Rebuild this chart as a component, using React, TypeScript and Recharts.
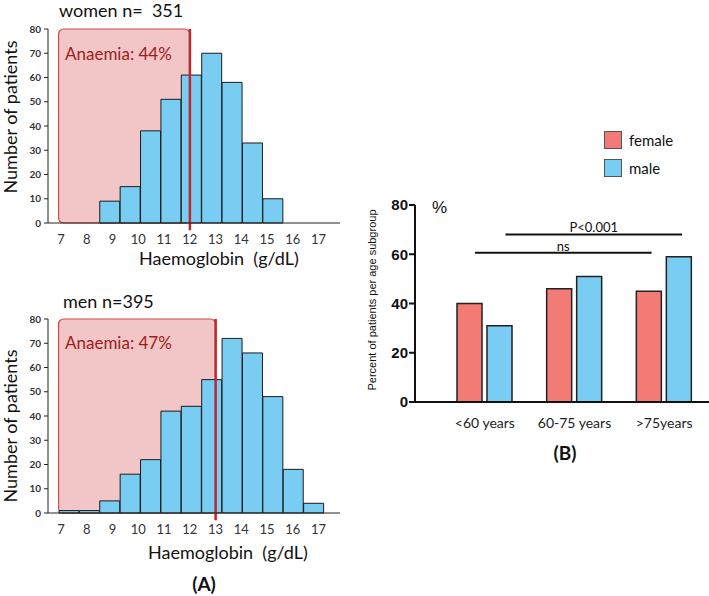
import React from 'react';
import {
  BarChart, Bar, XAxis, YAxis, ReferenceArea, ReferenceLine,
} from 'recharts';

// histogram bins (left edge of each bin, g/dL) and counts
const binStarts = [7.0, 7.8, 8.6, 9.4, 10.2, 11.0, 11.8, 12.5, 13.3, 14.1, 14.9, 15.7, 16.4];
const womenCounts = [0, 0, 9, 15, 38, 51, 61, 70, 58, 33, 10, 0, 0];
const menCounts = [1, 1, 5, 16, 22, 42, 44, 55, 72, 66, 48, 18, 4];
const hbTicks = [7, 8, 9, 10, 11, 12, 13, 14, 15, 16, 17];
const countTicks = [0, 10, 20, 30, 40, 50, 60, 70, 80];

// panel B
const ageGroups = ['<60 years', '60-75 years', '>75years'];
const femalePct = [40, 46, 45];
const malePct = [31, 51, 59];
const pctTicks = [0, 20, 40, 60, 80];

const BLUE = '#79cdf2';
const SALMON = '#f27b76';
const DARKRED = '#9e1c20';
const FONT = 'Lato, "Open Sans", sans-serif';
const ARIAL = '"Liberation Sans", Arial, sans-serif';

const womenData = binStarts.map((b, i) => ({ bin: String(b), lo: b, n: womenCounts[i] }));
const menData = binStarts.map((b, i) => ({ bin: String(b), lo: b, n: menCounts[i] }));
const ageData = ageGroups.map((g, i) => ({ group: g, idx: i, female: femalePct[i], male: malePct[i] }));

function Txt({ x, y, children, size = 18, center = false, rotate = false, bold = false, color = '#111', family = FONT }: any) {
  let tf = 'translateY(-50%)';
  if (center) tf = 'translate(-50%, -50%)';
  if (rotate) tf = 'translate(-50%, -50%) rotate(-90deg)';
  return (
    <div style={{
      position: 'absolute', left: x, top: y, transform: tf, fontFamily: family, fontSize: size,
      fontWeight: bold ? 700 : 400, color, whiteSpace: 'pre', lineHeight: 1,
    }}>{children}</div>
  );
}

const roundedArea = (props: any) => (
  <rect x={props.x} y={props.y} width={props.width} height={props.height} rx={5} ry={5}
    fill="#f2c5c7" stroke="#cf4a4a" strokeWidth={1.2} />
);

function Histogram({ data, cutoff, top }: { data: any[]; cutoff: number; top: number }) {
  return (
    <div style={{ position: 'absolute', left: 0, top }}>
      <BarChart width={345} height={270} data={data} barCategoryGap={0}
        margin={{ top: 29, right: 5, left: 28, bottom: 27 }}>
        <XAxis xAxisId="hb" dataKey="lo" type="number" domain={[6.49, 17.83]} ticks={hbTicks} interval={0}
          allowDataOverflow height={20} tickLine={false} tickSize={0} tickMargin={12}
          axisLine={{ stroke: '#222' }} tick={{ fontSize: 13, fill: '#333', fontFamily: FONT }} />
        <XAxis xAxisId="bin" dataKey="bin" hide height={0} padding={{ left: 11, right: 16 }} />
        <YAxis domain={[0, 80]} ticks={countTicks} interval={0} width={20} tickSize={4} tickMargin={3}
          axisLine={{ stroke: '#222' }} tickLine={{ stroke: '#222' }}
          tick={{ fontSize: 10, fill: '#333', fontFamily: FONT, fontWeight: 700 }} />
        <ReferenceArea xAxisId="hb" x1={6.9} x2={cutoff} y1={0} y2={80} shape={roundedArea} />
        <Bar xAxisId="bin" dataKey="n" fill={BLUE} stroke="#1b1b1b" strokeWidth={1} isAnimationActive={false} />
        <ReferenceLine xAxisId="hb" segment={[{ x: cutoff, y: -3 }, { x: cutoff, y: 80 }]}
          ifOverflow="visible" stroke="#c0262b" strokeWidth={2.5} />
      </BarChart>
    </div>
  );
}

function AgeLegend({ x, y }: { x: number; y: number }) {
  const items = [{ name: 'female', color: SALMON }, { name: 'male', color: BLUE }];
  return (
    <div style={{ position: 'absolute', left: x, top: y }}>
      {items.map((it) => (
        <div key={it.name} style={{ display: 'flex', alignItems: 'center', height: 28 }}>
          <div style={{ width: 16, height: 16, background: it.color, border: '1px solid #555' }} />
          <span style={{ marginLeft: 7, fontFamily: FONT, fontSize: 15, color: '#111' }}>{it.name}</span>
        </div>
      ))}
    </div>
  );
}

export default function App() {
  return (
    <div style={{ position: 'absolute', left: 0, top: 0, width: 709, height: 596, background: '#fff', overflow: 'hidden' }}>
      {/* (A) women */}
      <Histogram data={womenData} cutoff={12} top={0} />
      <Txt x={59} y={10}>{'women n=  351'}</Txt>
      <Txt x={10} y={117} center rotate>Number of patients</Txt>
      <Txt x={139} y={258}>{'Haemoglobin  (g/dL)'}</Txt>
      <Txt x={65} y={53} size={17} color={DARKRED}>Anaemia: 44%</Txt>

      {/* (A) men */}
      <Histogram data={menData} cutoff={13} top={290} />
      <Txt x={63} y={301}>men n=395</Txt>
      <Txt x={10} y={426} center rotate>Number of patients</Txt>
      <Txt x={148} y={552}>{'Haemoglobin  (g/dL)'}</Txt>
      <Txt x={65} y={342} size={17} color={DARKRED}>Anaemia: 47%</Txt>
      <Txt x={204} y={583} center bold size={19}>(A)</Txt>

      {/* (B) */}
      <div style={{ position: 'absolute', left: 360, top: 100 }}>
        <BarChart width={349} height={340} data={ageData} barSize={25} barGap={5}
          margin={{ top: 105, right: 0, left: 25, bottom: 8 }}>
          <XAxis dataKey="group" padding={{ left: 25, right: 0 }} height={30} tickLine={false} tickSize={0}
            tickMargin={16} axisLine={{ stroke: '#111', strokeWidth: 2 }}
            tick={{ fontSize: 14, fill: '#222', fontFamily: FONT }} />
          <XAxis xAxisId="pos" dataKey="idx" type="number" domain={[-0.5, 2.5]} hide height={0}
            padding={{ left: 25, right: 0 }} allowDataOverflow />
          <YAxis domain={[0, 80]} ticks={pctTicks} interval={0} width={30} tickSize={6} tickMargin={1}
            axisLine={{ stroke: '#111', strokeWidth: 2 }} tickLine={{ stroke: '#111', strokeWidth: 2 }}
            tick={{ fontSize: 15, fill: '#111', fontFamily: ARIAL, fontWeight: 700 }} />
          <Bar dataKey="female" fill={SALMON} stroke="#222" strokeWidth={1.5} isAnimationActive={false} />
          <Bar dataKey="male" fill={BLUE} stroke="#222" strokeWidth={1.5} isAnimationActive={false} />
          <ReferenceLine xAxisId="pos" segment={[{ x: 0.23, y: 68 }, { x: 2.2, y: 68 }]} stroke="#111" strokeWidth={2}
            label={{ value: 'P<0.001', position: 'top', offset: 3, fontSize: 13, fill: '#111', fontFamily: FONT }} />
          <ReferenceLine xAxisId="pos" segment={[{ x: -0.11, y: 60.6 }, { x: 1.86, y: 60.6 }]} stroke="#111" strokeWidth={2}
            label={{ value: 'ns', position: 'top', offset: 2, fontSize: 13, fill: '#111', fontFamily: FONT }} />
        </BarChart>
      </div>
      <AgeLegend x={604} y={126} />
      <Txt x={372} y={300} center rotate size={11} family={ARIAL}>Percent of patients per age subgroup</Txt>
      <Txt x={432} y={207} size={17} family={ARIAL}>%</Txt>
      <Txt x={565} y={452} center bold size={19}>(B)</Txt>
    </div>
  );
}
